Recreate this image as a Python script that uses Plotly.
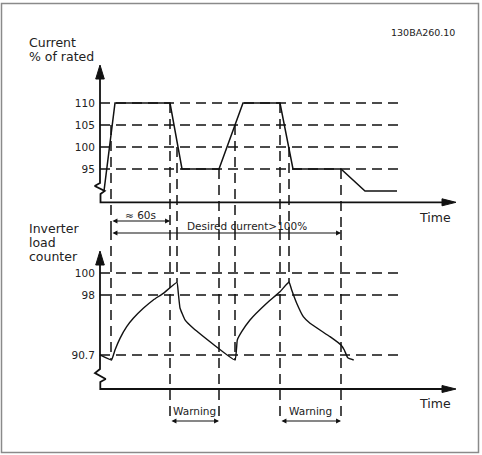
import numpy as np
import plotly.graph_objects as go

# ---------------- data ----------------
# upper panel: motor current in % of rated, time axis in seconds (schematic)
CURRENT_T = [4, 15, 70, 82, 119, 143, 180, 193, 241, 265, 297]
CURRENT_PCT = [90.0, 110, 110, 95, 95, 110, 110, 95, 95, 90, 90]
CURRENT_TICKS = [110, 105, 100, 95]
CURRENT_TICK_TEXT = ["110", "105", "100", "95"]

# lower panel: inverter load counter (schematic level)
LOAD_T = [0, 11.5, 15, 20, 26.7, 33.3, 43.3, 53.3, 63.3, 77, 78.3, 80, 85, 93.3,
          135, 137.3, 141.7, 150, 166.7, 180, 189, 191.7, 196.7, 203.3, 210, 230,
          241, 244.3, 247.7, 253.7]
LOAD_LEVEL = [92.55, 92.09, 93.0, 94.06, 95.12, 95.88, 96.79, 97.55, 98.15, 99.15,
              98.18, 96.82, 95.73, 94.97, 92.09, 93.91, 94.66, 95.73, 97.25, 98.30,
              99.18, 98.45, 97.25, 96.03, 95.43, 94.21, 93.45, 93.0, 92.30, 92.09]
LOAD_TICKS = [100, 98, 92.55]
LOAD_TICK_TEXT = ["100", "98", "90.7"]

# event markers (time) and the current level each marker starts from
MARK_T = [11, 70, 77, 119, 135, 180, 189, 241]
MARK_FROM = [105, 110, 100, 95, 105, 110, 100, 95]
MARK_TO_WARNING = [False, True, False, True, False, True, False, True]

WARNINGS = [(70, 119), (180, 241)]
SPAN_60S = (11, 70)
SPAN_DESIRED = (11, 241)
T_AXIS_END = 356
T_DASH_END = 301

# ---------------- layout geometry ----------------
W, H = 482, 455
SPLIT = 230                      # pixel row separating the two panels
X_RANGE = [-100, W - 100]        # 1 px per second, origin at pixel 100

UP_K = 4.4                       # px per % (upper)
LO_K = 11.0                      # px per level unit (lower)
def up(py):   # pixel row -> current %
    return 110 - (py - 103) / UP_K
def lo(py):   # pixel row -> load level
    return 100 - (py - 273) / LO_K

UP_RANGE = [up(SPLIT), up(0)]
LO_RANGE = [lo(H), lo(SPLIT)]
UP_DOM = [1 - SPLIT / H, 1]
LO_DOM = [0, 1 - SPLIT / H]

FONT = "DejaVu Sans"
INK = "#111111"
TXT = "#222222"
DASH = "10px,6px"

fig = go.Figure()

# axes with break marks
up_axis_x = [0, 0, -5.3, 4.7, 0.5, 0.5, T_AXIS_END - 13]
up_axis_y = [up(79), up(183), up(186), up(191), up(194), up(202.3), up(202.3)]
fig.add_trace(go.Scatter(x=up_axis_x, y=up_axis_y, mode="lines",
                         line=dict(color=INK, width=1.8), hoverinfo="skip",
                         xaxis="x", yaxis="y"))
lo_axis_x = [0, 0, -5, 5.7, 0.3, 0.3, T_AXIS_END - 13]
lo_axis_y = [lo(265), lo(369), lo(373), lo(379), lo(382), lo(389), lo(389)]
fig.add_trace(go.Scatter(x=lo_axis_x, y=lo_axis_y, mode="lines",
                         line=dict(color=INK, width=1.8), hoverinfo="skip",
                         xaxis="x", yaxis="y2"))

# data curves
fig.add_trace(go.Scatter(x=CURRENT_T, y=CURRENT_PCT, mode="lines",
                         line=dict(color=INK, width=1.5), xaxis="x", yaxis="y"))
fig.add_trace(go.Scatter(x=LOAD_T, y=LOAD_LEVEL, mode="lines",
                         line=dict(color=INK, width=1.4, shape="spline", smoothing=0.3),
                         xaxis="x", yaxis="y2"))

shapes = []
# arrow heads of the axes
def tri(path, yref):
    shapes.append(dict(type="path", path=path, xref="x", yref=yref,
                       fillcolor=INK, line=dict(color=INK, width=1)))
tri(f"M 0,{up(65)} L -4.3,{up(79)} L 4.3,{up(79)} Z", "y")
tri(f"M 0,{lo(251)} L -4.3,{lo(265)} L 4.3,{lo(265)} Z", "y2")
tri(f"M {T_AXIS_END},{up(202.3)} L {T_AXIS_END-14},{up(198.8)} L {T_AXIS_END-14},{up(205.8)} Z", "y")
tri(f"M {T_AXIS_END},{lo(389)} L {T_AXIS_END-14},{lo(385.5)} L {T_AXIS_END-14},{lo(392.5)} Z", "y2")

# dashed reference levels
for v in CURRENT_TICKS:
    shapes.append(dict(type="line", xref="x", yref="y", x0=0, x1=T_DASH_END, y0=v, y1=v,
                       line=dict(color=INK, width=1.5, dash=DASH)))
for v in LOAD_TICKS:
    shapes.append(dict(type="line", xref="x", yref="y2", x0=0, x1=T_DASH_END, y0=v, y1=v,
                       line=dict(color=INK, width=1.5, dash=DASH)))

# vertical event markers, crossing both panels
warn_level = lo(421)
for t, v0, to_warn in zip(MARK_T, MARK_FROM, MARK_TO_WARNING):
    end = warn_level if to_warn else float(np.interp(t, LOAD_T, LOAD_LEVEL))
    shapes.append(dict(type="line", xref="x", yref="y", x0=t, x1=t, y0=v0, y1=UP_RANGE[0],
                       line=dict(color=INK, width=1.5, dash=DASH)))
    shapes.append(dict(type="line", xref="x", yref="y2", x0=t, x1=t, y0=LO_RANGE[1], y1=end,
                       line=dict(color=INK, width=1.5, dash=DASH)))

# frame
shapes.append(dict(type="rect", xref="paper", yref="paper",
                   x0=1.5 / W, x1=478.5 / W, y0=1 - 452.5 / H, y1=1 - 3.5 / H,
                   line=dict(color="#8a8a8a", width=1.5)))

annotations = []
def dbl_arrow(t0, t1, v, yref):
    annotations.append(dict(x=t1, y=v, ax=t0, ay=v, xref="x", yref=yref,
                            axref="x", ayref=yref, text="", showarrow=True,
                            arrowhead=2, arrowside="end+start", arrowsize=0.9,
                            arrowwidth=1.1, arrowcolor=INK, standoff=0, startstandoff=0))

def label(text, px, py, size, xanchor="center"):
    annotations.append(dict(x=px / W, y=1 - py / H, xref="paper", yref="paper",
                            text=text, showarrow=False, xanchor=xanchor, yanchor="middle",
                            font=dict(family=FONT, size=size, color=TXT)))

dbl_arrow(SPAN_60S[0], SPAN_60S[1], up(221), "y")
dbl_arrow(SPAN_DESIRED[0], SPAN_DESIRED[1], lo(233), "y2")
for a, b in WARNINGS:
    dbl_arrow(a, b, warn_level, "y2")
    label("Warning", 100 + (a + b) / 2, 411, 10.5)

label("\u2248 60s", 140, 215, 10.5)
label("Desired current>100%", 247, 226, 10.5)
label("Current", 27, 42, 12.5, "left")
label("% of rated", 27, 56, 12.5, "left")
label("Inverter", 27, 228, 12.5, "left")
label("load", 27, 242, 12.5, "left")
label("counter", 27, 256, 12.5, "left")
label("Time", 435, 217, 12.5)
label("Time", 435, 403, 12.5)
label("130BA260.10", 423, 33, 9.5)

tick_common = dict(showgrid=False, zeroline=False, showline=False,
                   ticks="outside", ticklen=3, tickcolor="rgba(0,0,0,0)",
                   tickfont=dict(family=FONT, size=10.5, color=TXT),
                   anchor="free", position=100 / W, fixedrange=True)
fig.update_layout(
    width=W, height=H, margin=dict(l=0, r=0, t=0, b=0),
    paper_bgcolor="white", plot_bgcolor="white", showlegend=False,
    xaxis=dict(range=X_RANGE, domain=[0, 1], visible=False, fixedrange=True),
    yaxis=dict(range=UP_RANGE, domain=UP_DOM,
               tickvals=CURRENT_TICKS, ticktext=CURRENT_TICK_TEXT, **tick_common),
    yaxis2=dict(range=LO_RANGE, domain=LO_DOM,
                tickvals=LOAD_TICKS, ticktext=LOAD_TICK_TEXT, **tick_common),
    shapes=shapes, annotations=annotations,
)

fig.write_html("out.html", config={"displayModeBar": False},
               post_script="document.body.style.margin='0';")
